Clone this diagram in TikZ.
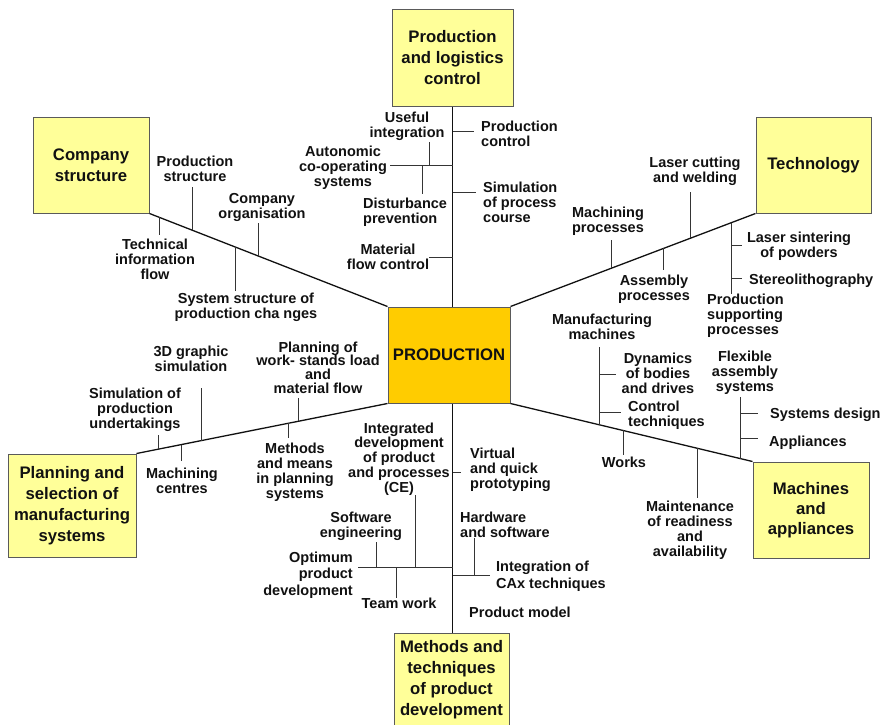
\documentclass[tikz,border=0pt]{standalone}
\usepackage{fontspec}
\setmainfont{Liberation Sans}
\usetikzlibrary{calc,shadows}
\definecolor{paleyellow}{HTML}{FFFF99}
\definecolor{coreyellow}{HTML}{FFCC00}
\definecolor{frame}{HTML}{5A5A5A}
\definecolor{ink}{HTML}{111111}
\begin{document}
\begin{tikzpicture}[x=1pt,y=-1pt,
  areabox/.style={draw=frame, line width=1pt, fill=#1,
    general shadow={fill=#1, shadow xshift=1.2pt, shadow yshift=-1.2pt},
    align=center, inner sep=0pt, text=ink,
    font=\fontsize{16.7}{21}\selectfont\bfseries},
  areabox/.default=paleyellow,
  lbl/.style={inner sep=0pt, align=center, anchor=north, text=ink,
    font=\fontsize{14.5}{15}\selectfont\bfseries},
  lbll/.style={lbl, align=left, anchor=north west},
  lblr/.style={lbl, align=right, anchor=north east},
  spine/.style={draw=ink, line width=1.3pt},
  twig/.style={draw=ink!85, line width=1pt}]
\useasboundingbox (0,0) rectangle (883,724);

% ---- main boxes ----
\node[areabox, minimum width=121pt, minimum height=97pt] (plc) at (452.5,57.5) {Production\\and logistics\\control};
\node[areabox, minimum width=116pt, minimum height=96pt] (cs) at (91,165) {Company\\structure};
\node[areabox, minimum width=115pt, minimum height=96pt] (tech) at (813.5,165) {Technology};
\node[areabox=coreyellow, minimum width=122pt, minimum height=96pt] (prod) at (449,355) {PRODUCTION};
\node[areabox, minimum width=128pt, minimum height=103pt] (pl) at (72,505.5) {Planning and\\selection of\\manufacturing\\systems};
\node[areabox, minimum width=116pt, minimum height=96pt, font=\fontsize{16.7}{20}\selectfont\bfseries] (mach) at (811,510) {Machines\\and\\appliances};
\node[areabox, minimum width=115pt, minimum height=94pt] (mtp) at (451.5,680) {Methods and\\techniques\\of product\\development};

% ---- spines ----
\draw[spine] (plc.south) -- (plc.south |- prod.north);
\draw[spine] (cs.south east) -- (prod.north west);
\draw[spine] (prod.north east) -- (tech.south west);
\draw[spine] (pl.north east) -- (prod.south west);
\draw[spine] (prod.south east) -- (mach.north west);
\draw[spine] (plc.south |- prod.south) -- (plc.south |- mtp.north);

% ---- company structure branch ----
\coordinate (cA) at ($(cs.south east)!0.042!(prod.north west)$);
\coordinate (cB) at ($(cs.south east)!0.180!(prod.north west)$);
\coordinate (cC) at ($(cs.south east)!0.360!(prod.north west)$);
\coordinate (cD) at ($(cs.south east)!0.460!(prod.north west)$);
\draw[twig] (cA) -- ++(0,18);
\draw[twig] (cB) -- ++(0,-43);
\draw[twig] (cC) -- ++(0,44);
\draw[twig] (cD) -- ++(0,-33);
\node[lbl] (lTif) at (155,238.5) {Technical\\information\\flow};
\node[lbl] (lPs) at (195,155.5) {Production\\structure};
\node[lbl] (lCo) at (262,193.5) {Company\\organisation};
\node[lbl] (lSs) at (246,292.5) {System structure of\\production cha nges};

% ---- production and logistics control branch ----
\coordinate (u1) at (plc.south |- 0,131);
\coordinate (u2) at (plc.south |- 0,165);
\coordinate (u3) at (plc.south |- 0,192);
\coordinate (u4) at (plc.south |- 0,257);
\coordinate (uUse) at (429,165);
\coordinate (uDis) at (422,165);
\draw[twig] (u1) -- ++(21,0);
\draw[twig] (u2) -- ++(-62.5,0);
\draw[twig] (uUse) -- ++(0,-23);
\draw[twig] (uDis) -- ++(0,29);
\draw[twig] (u3) -- ++(23.5,0);
\draw[twig] (u4) -- ++(-24,0);
\node[lbll] (lPc) at (481,120.5) {Production\\control};
\node[lbl] (lUi) at (407,111.5) {Useful\\integration};
\node[lbl] (lAc) at (343,145.5) {Autonomic\\co-operating\\systems};
\node[lbll] (lDp) at (363,197.5) {Disturbance\\prevention};
\node[lbll] (lSp) at (483,181.5) {Simulation\\of process\\course};
\node[lbl] (lMf) at (388,243.5) {Material\\flow control};

% ---- technology branch ----
\coordinate (tA) at ($(prod.north east)!0.411!(tech.south west)$);
\coordinate (tB) at ($(prod.north east)!0.626!(tech.south west)$);
\coordinate (tC) at ($(prod.north east)!0.736!(tech.south west)$);
\coordinate (tD) at ($(prod.north east)!0.902!(tech.south west)$);
\draw[twig] (tA) -- ++(0,-28);
\draw[twig] (tB) -- ++(0,22);
\draw[twig] (tC) -- ++(0,-46);
\draw[twig] (tD) -- ++(0,71);
\coordinate (tD1) at (tD |- 0,245);
\coordinate (tD2) at (tD |- 0,278);
\draw[twig] (tD1) -- ++(11,0);
\draw[twig] (tD2) -- ++(11,0);
\node[lbl] (lMp) at (608,206.5) {Machining\\processes};
\node[lbl] (lLc) at (695,156.5) {Laser cutting\\and welding};
\node[lbl] (lAp) at (654,274.5) {Assembly\\processes};
\node[lbl] (lLs) at (799,231.5) {Laser sintering\\of powders};
\node[lbll] (lSt) at (749,273.5) {Stereolithography};
\node[lbll] (lPsp) at (707,293.5) {Production\\supporting\\processes};

% ---- machines and appliances branch ----
\coordinate (mA) at ($(prod.south east)!0.366!(mach.north west)$);
\coordinate (mB) at ($(prod.south east)!0.465!(mach.north west)$);
\coordinate (mC) at ($(prod.south east)!0.774!(mach.north west)$);
\coordinate (mD) at ($(prod.south east)!0.951!(mach.north west)$);
\draw[twig] (mA) -- ++(0,-77.6);
\coordinate (mA1) at (mA |- 0,374);
\coordinate (mA2) at (mA |- 0,412);
\draw[twig] (mA1) -- ++(17,0);
\draw[twig] (mA2) -- ++(22,0);
\draw[twig] (mB) -- ++(0,25);
\draw[twig] (mC) -- ++(0,50);
\draw[twig] (mD) -- ++(0,-62);
\coordinate (mD1) at (mD |- 0,413);
\coordinate (mD2) at (mD |- 0,438);
\draw[twig] (mD1) -- ++(17,0);
\draw[twig] (mD2) -- ++(17,0);
\node[lbl] (lMm) at (602,313.5) {Manufacturing\\machines};
\node[lbl] (lDb) at (658,352.5) {Dynamics\\of bodies\\and drives};
\node[lbll] (lCt) at (628,400.5) {Control\\techniques};
\node[lbl] (lWo) at (624,456.5) {Works};
\node[lbl] (lMr) at (690,500.5) {Maintenance\\of readiness\\and\\availability};
\node[lbl] (lFa) at (745,350.5) {Flexible\\assembly\\systems};
\node[lbll] (lSd) at (770,407.5) {Systems design};
\node[lbll] (lApl) at (769,435.5) {Appliances};

% ---- planning branch ----
\coordinate (pA) at ($(pl.north east)!0.087!(prod.south west)$);
\coordinate (pB) at ($(pl.north east)!0.179!(prod.south west)$);
\coordinate (pC) at ($(pl.north east)!0.258!(prod.south west)$);
\coordinate (pD) at ($(pl.north east)!0.607!(prod.south west)$);
\coordinate (pE) at ($(pl.north east)!0.647!(prod.south west)$);
\draw[twig] (pA) -- ++(0,-14.6);
\draw[twig] (pB) -- ++(0,16);
\draw[twig] (pC) -- ++(0,-53);
\draw[twig] (pD) -- ++(0,15);
\draw[twig] (pE) -- ++(0,-23);
\node[lbl] (lSpu) at (135,387.5) {Simulation of\\production\\undertakings};
\node[lbl] (l3d) at (191,345.5) {3D graphic\\simulation};
\node[lbl] (lMc) at (182,467.5) {Machining\\centres};
\node[lbl, font=\fontsize{14.5}{13.7}\selectfont\bfseries] (lPw) at (318,341.5) {Planning of\\work- stands load\\and\\material flow};
\node[lbl] (lMm2) at (295,442.5) {Methods\\and means\\in planning\\systems};

% ---- product development branch ----
\coordinate (d1) at (plc.south |- 0,472);
\coordinate (d2) at (plc.south |- 0,567);
\coordinate (d3) at (plc.south |- 0,575);
\coordinate (dInt) at (415,567);
\coordinate (dSw) at (376,567);
\coordinate (dTw) at (396,567);
\coordinate (dHw) at (474,575);
\draw[twig] (d1) -- ++(8.5,0);
\draw[twig] (d2) -- ++(-95,0);
\draw[twig] (dInt) -- ++(0,-72);
\draw[twig] (dSw) -- ++(0,-25);
\draw[twig] (dTw) -- ++(0,31);
\draw[twig] (d3) -- ++(37.5,0);
\draw[twig] (dHw) -- ++(0,-37);
\node[lbl, font=\fontsize{14.5}{14.7}\selectfont\bfseries] (lId) at (399,422.5) {Integrated\\development\\of product\\and processes\\(CE)};
\node[lbll] (lVq) at (470,447.5) {Virtual\\and quick\\prototyping};
\node[lbl] (lSe) at (361,511.5) {Software\\engineering};
\node[lblr, font=\fontsize{14.5}{16.5}\selectfont\bfseries] (lOp) at (353,551.5) {Optimum\\product\\development};
\node[lbl] (lTw) at (399,597.5) {Team work};
\node[lbll] (lHs) at (460,511.5) {Hardware\\and software};
\node[lbll, font=\fontsize{14.5}{17}\selectfont\bfseries] (lIc) at (496,560.5) {Integration of\\CAx techniques};
\node[lbll] (lPm) at (469,606.5) {Product model};
\end{tikzpicture}
\end{document}
